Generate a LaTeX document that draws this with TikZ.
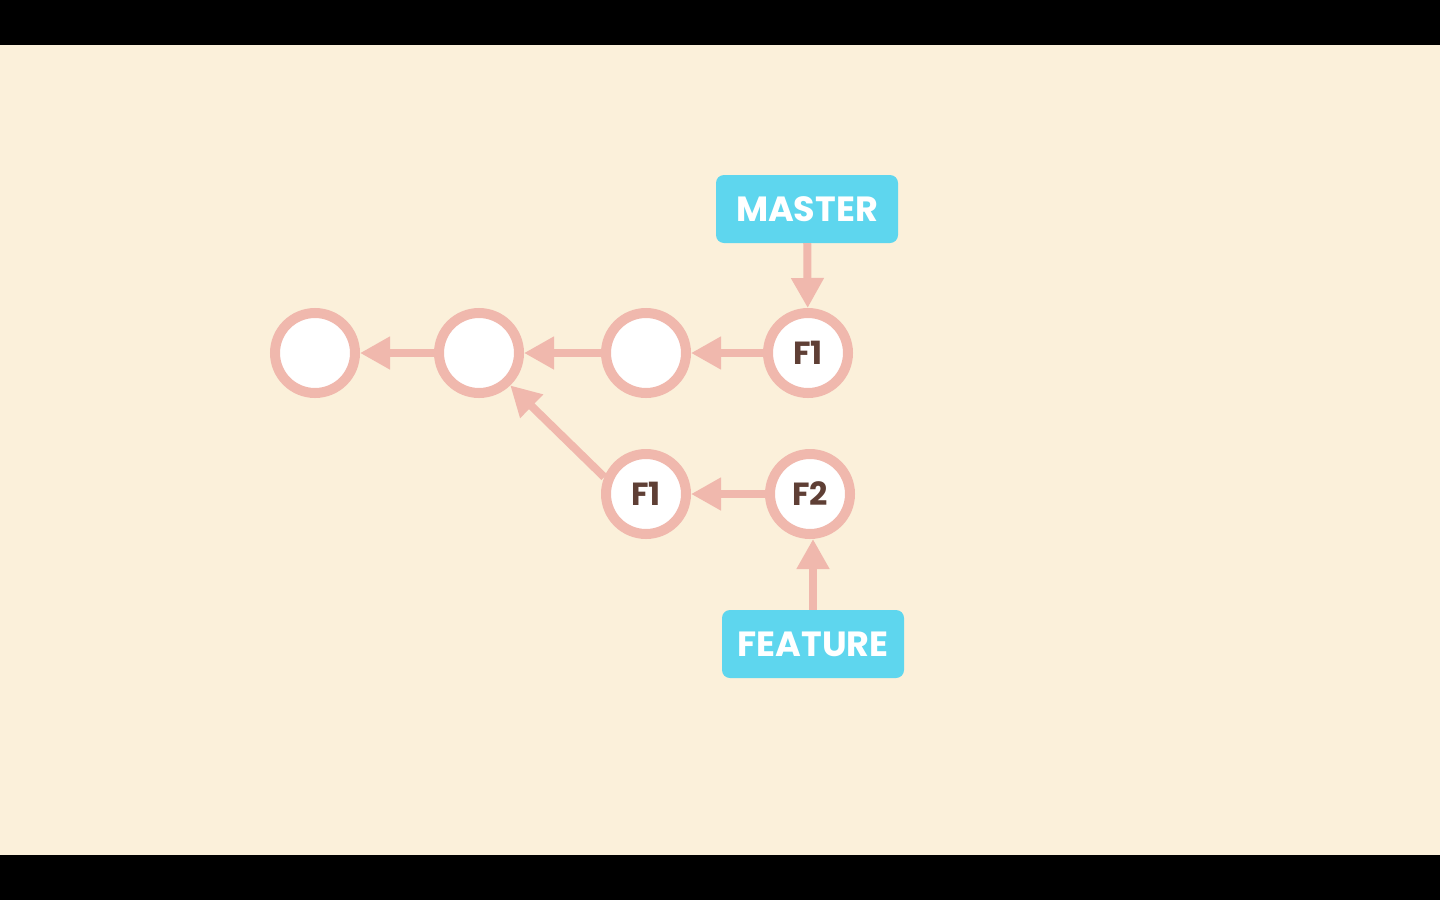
\documentclass[tikz,border=0pt]{standalone}
\usepackage{fontspec}
\setmainfont{Poppins}
\usetikzlibrary{arrows.meta}
\definecolor{bgc}{HTML}{FBF0DA}
\definecolor{ringc}{HTML}{F0B8AD}
\definecolor{boxc}{HTML}{5ED6EE}
\definecolor{txtc}{HTML}{5F3F35}
\tikzset{
  commit/.style={circle, draw=ringc, line width=10pt, fill=white, minimum size=80pt, inner sep=0pt,
    font=\fontsize{32}{32}\selectfont\bfseries, text=txtc},
  branch/.style={rectangle, rounded corners=8pt, fill=boxc, minimum width=182pt, minimum height=68pt,
    inner sep=0pt, font=\fontsize{35}{35}\selectfont\bfseries, text=white},
  link/.style={draw=ringc, line width=8pt, -{Triangle[length=30pt,width=31pt]}}
}
\begin{document}
\begin{tikzpicture}[x=1pt,y=-1pt]
\fill[bgc] (0,0) rectangle (1440,900);
\fill[black] (0,0) rectangle (1440,45);
\fill[black] (0,855) rectangle (1440,900);
\useasboundingbox (0,0) rectangle (1440,900);
\node[commit] (c1) at (315,353) {};
\node[commit] (c2) at (479,353) {};
\node[commit] (c3) at (646,353) {};
\node[commit] (m1) at (808,353) {F1};
\node[commit] (f1) at (646,494) {F1};
\node[commit] (f2) at (810,494) {F2};
\node[branch] (master) at (807,209) {MASTER};
\node[branch] (feature) at (813,644) {FEATURE};
\draw[link] (c2) -- (c1);
\draw[link] (c3) -- (c2);
\draw[link] (m1) -- (c3);
\draw[link] (f1.158) -- (c2.-46);
\draw[link] (f2) -- (f1);
\draw[link] (master) -- (m1);
\draw[link] (feature.north) -- (feature.north |- f2.south);
\end{tikzpicture}
\end{document}
